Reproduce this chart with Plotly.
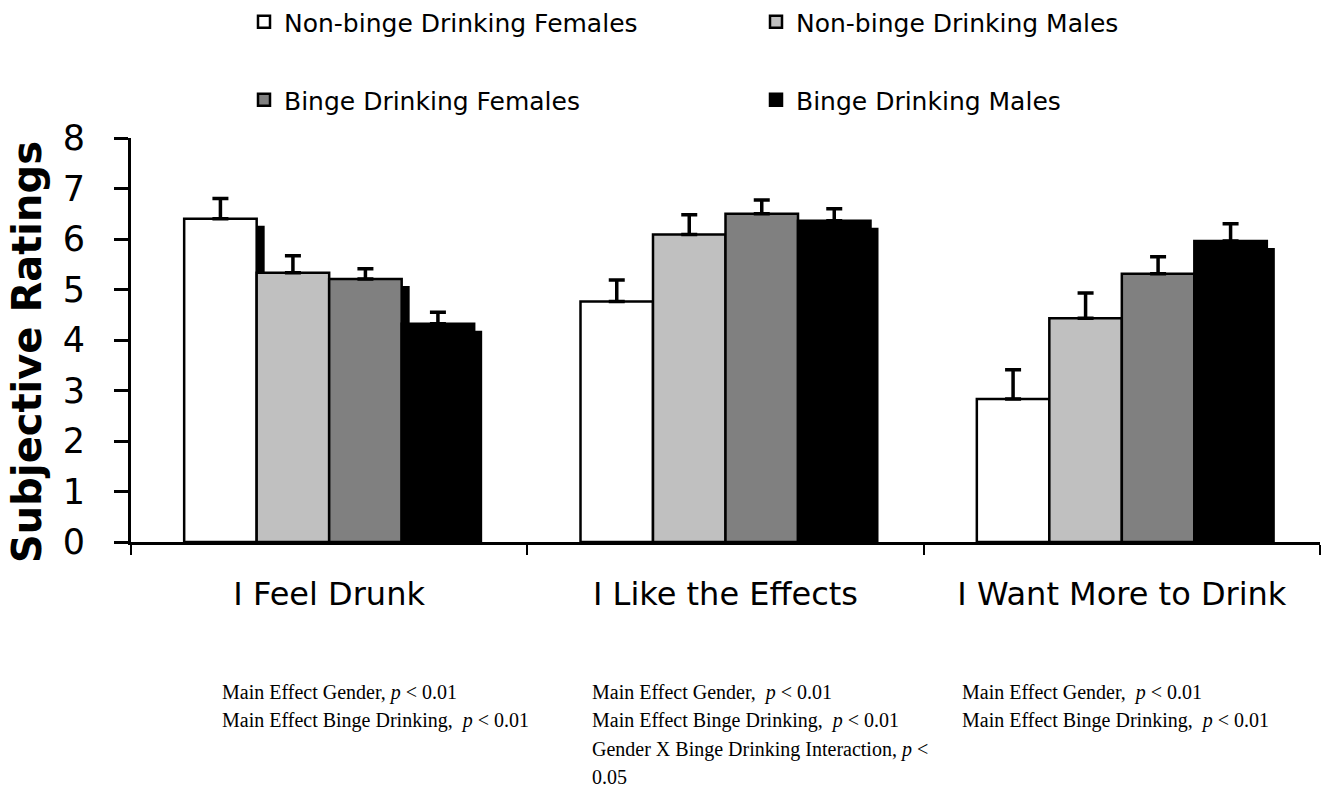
import plotly.graph_objects as go

# Subjective ratings by group (mean and upper SEM)
categories = ["I Feel Drunk", "I Like the Effects", "I Want More to Drink"]
series_names = [
    "Non-binge Drinking Females",
    "Non-binge Drinking Males",
    "Binge Drinking Females",
    "Binge Drinking Males",
]
nb_females = [6.40, 4.76, 2.83]
nb_males = [5.33, 6.09, 4.43]
b_females = [5.21, 6.50, 5.31]
b_males = [4.32, 6.36, 5.96]
nb_females_err = [0.40, 0.43, 0.58]
nb_males_err = [0.34, 0.39, 0.50]
b_females_err = [0.20, 0.27, 0.34]
b_males_err = [0.23, 0.24, 0.34]

effects_notes = [
    ["Main Effect Gender, <i>p</i> < 0.01",
     "Main Effect Binge Drinking,  <i>p</i> < 0.01"],
    ["Main Effect Gender,  <i>p</i> < 0.01",
     "Main Effect Binge Drinking,  <i>p</i> < 0.01",
     "Gender X Binge Drinking Interaction, <i>p</i> <",
     "0.05"],
    ["Main Effect Gender,  <i>p</i> < 0.01",
     "Main Effect Binge Drinking,  <i>p</i> < 0.01"],
]

values = [nb_females, nb_males, b_females, b_males]
errors = [nb_females_err, nb_males_err, b_females_err, b_males_err]
colors = ["#FFFFFF", "#C0C0C0", "#808080", "#000000"]

# page geometry (pixels)
W, H = 1332, 787
L, R, T, B = 131, 1320, 138, 542


def px2x(px):
    return (px - L) / (R - L)


def py2y(py):
    return (B - py) / (B - T)


cat_px = (R - L) / 3.0
bar_w = 72.5 / cat_px
offsets = [-2 * bar_w + i * bar_w for i in range(4)]
shadow_dx = 8 / cat_px
shadow_dy = 7 / ((B - T) / 8.0)

fig = go.Figure()

# drop shadows behind the bars
for i in range(4):
    fig.add_trace(go.Bar(
        x=categories,
        y=[v - shadow_dy for v in values[i]],
        width=bar_w,
        offset=offsets[i] + shadow_dx,
        marker=dict(color="#000000", line=dict(width=0)),
        showlegend=False,
        hoverinfo="skip",
    ))

# bars with upper error bars
for i in range(4):
    fig.add_trace(go.Bar(
        x=categories,
        y=values[i],
        name=series_names[i],
        width=bar_w,
        offset=offsets[i],
        marker=dict(color=colors[i], line=dict(color="#000000", width=2.5)),
        error_y=dict(type="data", symmetric=False, array=errors[i],
                     arrayminus=[0] * len(errors[i]),
                     color="#000000", thickness=3.5, width=8),
        legend="legend" if i < 2 else "legend2",
    ))

legend_common = dict(
    orientation="h",
    xanchor="left",
    yanchor="middle",
    font=dict(family="DejaVu Sans", size=25, color="#000000"),
    entrywidth=467,
    entrywidthmode="pixels",
    bgcolor="rgba(0,0,0,0)",
    traceorder="normal",
)

fig.update_layout(
    width=W,
    height=H,
    margin=dict(l=L, r=W - R, t=T, b=H - B, autoexpand=False),
    paper_bgcolor="#FFFFFF",
    plot_bgcolor="#FFFFFF",
    barmode="overlay",
    font=dict(family="DejaVu Sans", color="#000000"),
    legend=dict(x=px2x(244), y=py2y(22), **legend_common),
    legend2=dict(x=px2x(244), y=py2y(100), **legend_common),
    xaxis=dict(
        type="category",
        range=[-0.5, 2.5],
        showline=True, linecolor="#000000", linewidth=2.5,
        ticks="outside", tickson="boundaries", ticklen=10, tickwidth=2,
        tickcolor="#000000",
        showgrid=False, zeroline=False,
        tickfont=dict(family="DejaVu Sans", size=32, color="#000000"),
        ticklabelstandoff=22,
    ),
    yaxis=dict(
        range=[0, 8], dtick=1,
        showline=True, linecolor="#000000", linewidth=3,
        ticks="outside", ticklen=14, tickwidth=3, tickcolor="#000000",
        showgrid=False, zeroline=False,
        tickfont=dict(family="DejaVu Sans", size=35, color="#000000"),
        ticklabelstandoff=22,
    ),
)

# y-axis title
fig.add_annotation(
    text="<b>Subjective Ratings</b>",
    xref="paper", yref="paper",
    x=px2x(27), y=py2y(352),
    xanchor="center", yanchor="middle",
    textangle=-90, showarrow=False,
    font=dict(family="DejaVu Sans", size=40, color="#000000"),
)

# statistics under each category
col_px = [220, 590, 960]
line_px = [692, 720, 749, 777]
for c, lines in enumerate(effects_notes):
    for j, txt in enumerate(lines):
        fig.add_annotation(
            text=txt,
            xref="paper", yref="paper",
            x=px2x(col_px[c]), y=py2y(line_px[j]),
            xanchor="left", yanchor="middle",
            showarrow=False,
            font=dict(family="Liberation Serif", size=20, color="#000000"),
        )

fig.write_html("out.html")
